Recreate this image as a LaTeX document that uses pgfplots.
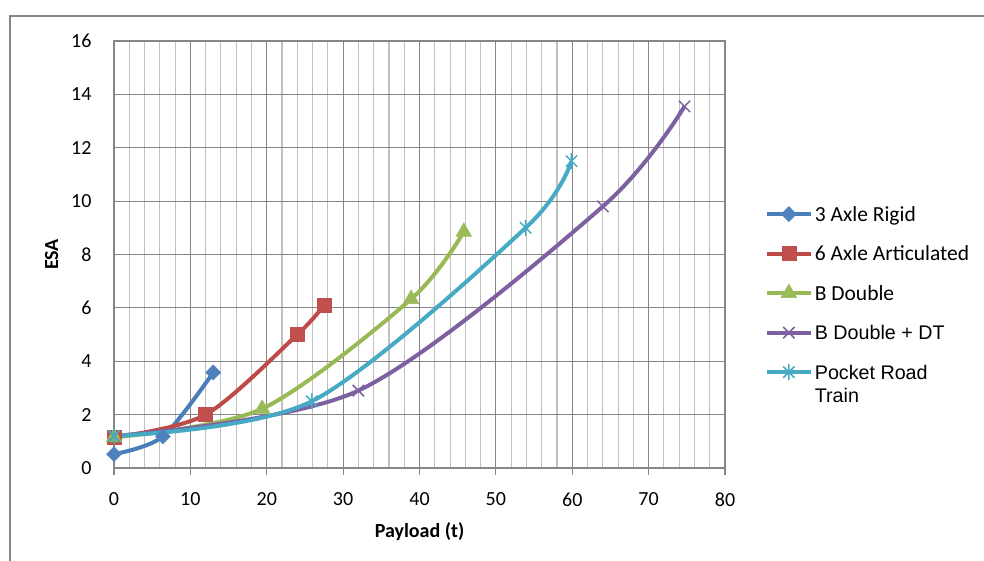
\documentclass[border=0pt]{standalone}
\usepackage{pgfplots}
\pgfplotsset{compat=1.18}
\usepackage{fontspec}
\setmainfont{Carlito}
\newfontfamily\arialfont{Liberation Sans}

\definecolor{framegray}{RGB}{134,134,134}
\definecolor{majgray}{RGB}{134,134,134}
\definecolor{mingray}{RGB}{192,192,192}
\definecolor{rigid}{RGB}{74,126,187}
\definecolor{rigidm}{RGB}{79,129,189}
\definecolor{artic}{RGB}{190,75,72}
\definecolor{articm}{RGB}{192,80,77}
\definecolor{bdbl}{RGB}{152,185,84}
\definecolor{bdblm}{RGB}{155,187,89}
\definecolor{bdt}{RGB}{125,96,160}
\definecolor{prt}{RGB}{70,170,197}

\newcommand\fs{\fontsize{20}{24}\selectfont}
\newcommand\lfs{\fontsize{21.5}{25}\selectfont}
\newcommand\afs{\fontsize{19.7}{23}\arialfont}
\newcommand\st{\rule[-6pt]{0pt}{22pt}}

% Excel style star: x with a vertical bar
\pgfdeclareplotmark{xstar}{%
  \pgfpathmoveto{\pgfqpoint{0pt}{\pgfplotmarksize}}%
  \pgfpathlineto{\pgfqpoint{0pt}{-\pgfplotmarksize}}%
  \pgfpathmoveto{\pgfqpoint{.707\pgfplotmarksize}{.707\pgfplotmarksize}}%
  \pgfpathlineto{\pgfqpoint{-.707\pgfplotmarksize}{-.707\pgfplotmarksize}}%
  \pgfpathmoveto{\pgfqpoint{-.707\pgfplotmarksize}{.707\pgfplotmarksize}}%
  \pgfpathlineto{\pgfqpoint{.707\pgfplotmarksize}{-.707\pgfplotmarksize}}%
  \pgfusepathqstroke}

\begin{document}
\begin{tikzpicture}[x=1pt,y=1pt]
\useasboundingbox (0,0) rectangle (984,561);
\clip (0,0) rectangle (984,561);
\fill[white] (0,0) rectangle (984,561);
\draw[framegray, line width=2pt] (10,-10) -- (10,545) -- (1000,545);

\begin{axis}[
  at={(114pt,93pt)}, anchor=south west,
  scale only axis, width=611pt, height=427pt,
  xmin=0, xmax=80, ymin=0, ymax=16,
  xtick={0,10,...,80}, minor x tick num=4,
  ytick={0,2,...,16},
  xmajorgrids, xminorgrids, ymajorgrids,
  major grid style={color=majgray, line width=1.1pt},
  minor grid style={color=mingray, line width=1.1pt},
  axis line style={majgray, line width=1.1pt},
  tick align=outside, tick pos=left,
  major tick length=7pt, minor tick length=0pt,
  xtick style={majgray, line width=1.1pt},
  ytick style={draw=none},
  /pgf/number format/assume math mode=true,
  tick label style={font=\fs},
  yticklabel style={xshift=-12pt},
  xticklabel style={yshift=-14pt},
  xlabel={\textbf{Payload (t)}},
  ylabel={\textbf{ESA}},
  label style={font=\fs},
  xlabel style={yshift=-9pt},
  ylabel style={yshift=6pt},
  legend cell align=left,
  legend style={at={(1.06,0.625)}, anchor=north west, draw=none, fill=none,
    font=\lfs, row sep=18pt},
  legend image code/.code={\draw[mark repeat=2,mark phase=2,#1]
    plot coordinates {(0pt,0pt) (22pt,0pt) (44pt,0pt)};},
]

\addplot[rigid, line width=4pt, smooth,
  mark=diamond*, mark size=7.5pt,
  mark options={solid, fill=rigidm, draw=rigidm, line width=0.5pt, xscale=1.33}]
  coordinates {(0,0.52) (6.4,1.18) (13,3.58)};
\addlegendentry{\st 3 Axle Rigid}

\addplot[artic, line width=4pt, smooth,
  mark=square*, mark size=7pt,
  mark options={solid, fill=articm, draw=articm, line width=0.5pt}]
  coordinates {(0,1.15) (12,2.0) (24,5.0) (27.5,6.1)};
\addlegendentry{\st 6 Axle Articulated}

\addplot[bdbl, line width=4pt, smooth,
  mark=triangle*, mark size=9pt,
  mark options={solid, fill=bdblm, draw=bdblm, line width=0.5pt}]
  coordinates {(0,1.15) (19.4,2.22) (38.9,6.33) (45.8,8.85)};
\addlegendentry{\st B Double}

\addplot[bdt, line width=4pt, smooth,
  mark=x, mark size=8pt,
  mark options={solid, draw=bdt, line width=1.5pt}]
  coordinates {(0,1.2) (32,2.9) (64,9.8) (74.7,13.55)};
\addlegendentry{\st\afs B Double + DT}

\addplot[prt, line width=4pt, smooth,
  mark=xstar, mark size=8pt,
  mark options={solid, draw=prt, line width=1.5pt}]
  coordinates {(0,1.2) (25.9,2.5) (53.9,9.0) (59.9,11.5)};
\addlegendentry{\afs\vtop{\hbox{\st Pocket Road}\hbox{Train}}}

\end{axis}
\end{tikzpicture}
\end{document}
